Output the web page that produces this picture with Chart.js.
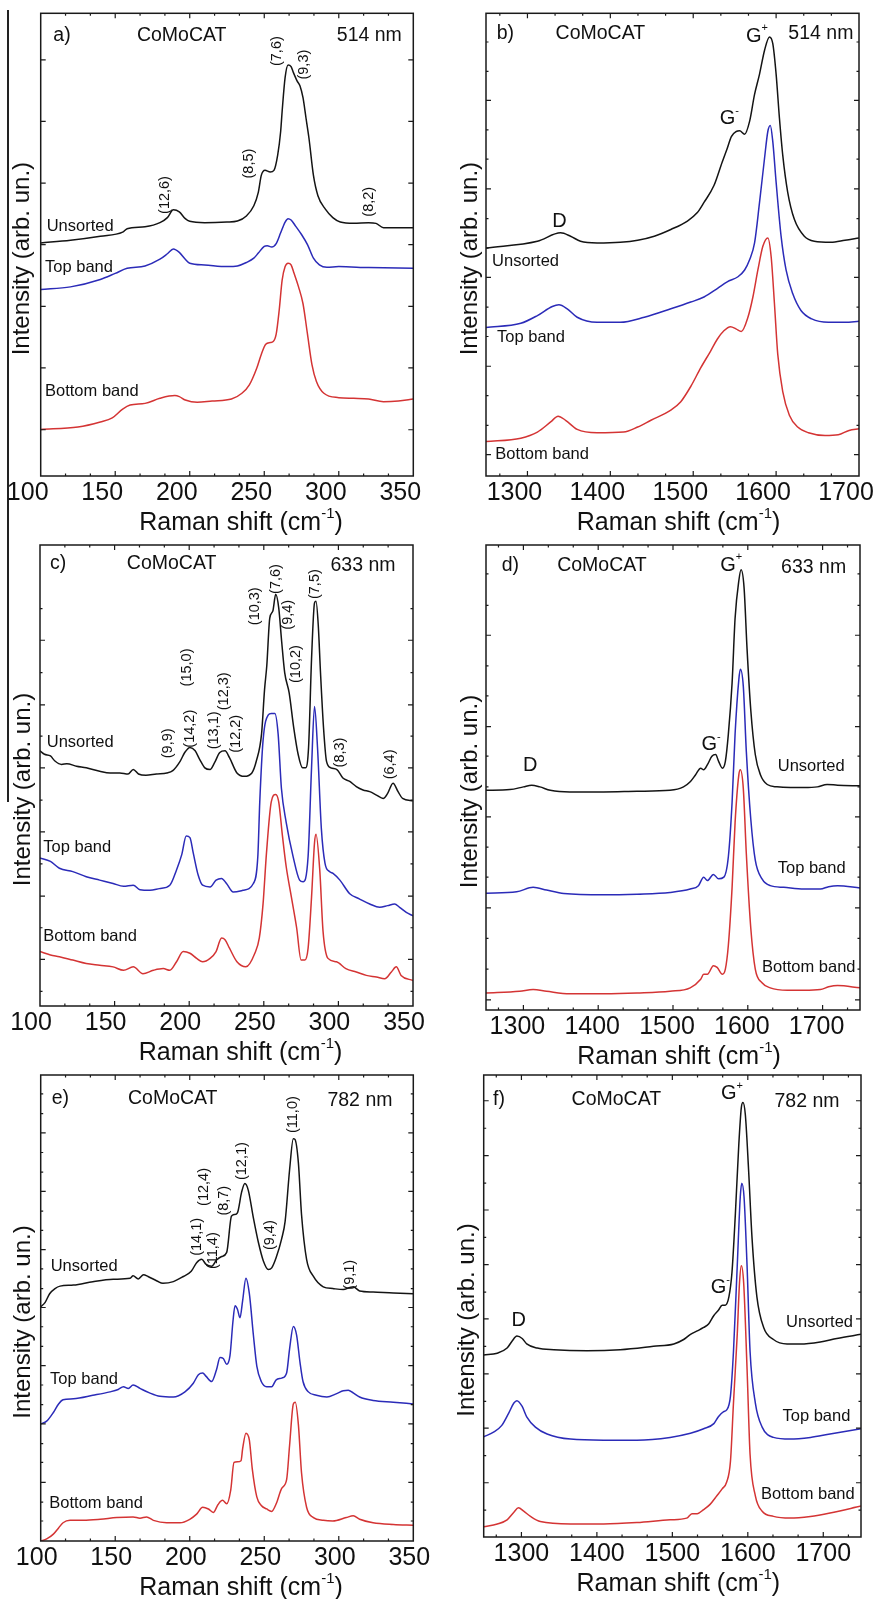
<!DOCTYPE html>
<html>
<head>
<meta charset="utf-8">
<script src="https://cdn.jsdelivr.net/npm/chart.js@4.4.1/dist/chart.umd.min.js"></script>
<style>
  body { margin: 0; background: #fff; }
  #page { position: relative; width: 874px; height: 1599px; overflow: hidden; background: #fff; }
  canvas { position: absolute; }
  #edge { position: absolute; left: 7px; top: 10px; width: 1.5px; height: 792px; background: #222; }
</style>
</head>
<body>
<div id="page">
  <div id="edge"></div>
  <canvas id="pa" width="437" height="545" style="left:0;top:0"></canvas>
  <canvas id="pb" width="437" height="545" style="left:437px;top:0"></canvas>
  <canvas id="pc" width="437" height="545" style="left:0;top:530px"></canvas>
  <canvas id="pd" width="437" height="545" style="left:437px;top:530px"></canvas>
  <canvas id="pe" width="437" height="539" style="left:0;top:1060px"></canvas>
  <canvas id="pf" width="437" height="539" style="left:437px;top:1060px"></canvas>
</div>
<script>
// tick labels
const rbmTicks = [100, 150, 200, 250, 300, 350];
const gTicks = [1300, 1400, 1500, 1600, 1700];

// y ticks per panel (arbitrary intensity units)
const aYTicks = [137, 320, 502, 685, 867, 1050, 1232];
const bYTicks = [63, 150, 238, 325, 413, 500, 588, 675, 762, 850, 938, 1025, 1112, 1198, 1285];
const cYTicks = [43, 137, 230, 323, 418, 512, 605, 700, 793, 885, 980, 1075, 1168];
const dYTicks = [30, 120, 210, 300, 390, 478, 567, 655, 745, 832, 922, 1010, 1100, 1188, 1280];
const eYTicks = [58, 113, 170, 228, 283, 340, 396, 453, 509, 565, 622, 678, 733, 790, 846, 902, 958, 1015, 1071, 1128, 1185, 1241, 1298];
const fYTicks = [78, 158, 237, 317, 395, 475, 555, 635, 713, 793, 872, 952, 1030, 1110, 1190, 1270];

// a) 514 nm RBM  [Raman shift, intensity]
const aUnsorted = [[100,690],[120,698],[140,710],[155,722],[158,732],[170,738],[180,750],[185,765],[189,788],[193,782],[197,762],[200,754],[210,750],[225,752],[232,755],[238,770],[243,800],[246,840],[248,890],[250.5,905],[254,900],[256.5,905],[259,950],[261,1020],[262,1080],[264,1180],[266,1217],[268,1212],[269.5,1195],[272,1170],[274,1155],[276,1120],[278,1060],[280,1000],[283,890],[286,830],[291,790],[296,765],[301,752],[310,748],[320,750],[325,748],[330,735],[340,735],[350,735]];
const aTop = [[100,552],[120,560],[140,582],[150,600],[158,615],[170,622],[180,642],[185,658],[189,672],[193,662],[197,642],[200,630],[210,625],[225,620],[232,622],[238,632],[243,645],[246,660],[250,680],[252,682],[255,678],[258,688],[261,720],[264,752],[266,762],[268,758],[271,740],[275,715],[279,685],[283,645],[287,625],[292,618],[300,620],[320,617],[350,615]];
const aBottom = [[100,138],[125,145],[140,160],[148,172],[155,198],[160,210],[170,215],[180,230],[190,238],[193,235],[197,225],[205,218],[215,222],[228,228],[235,245],[240,270],[245,320],[248,360],[251,390],[254,395],[256,398],[258,420],[260,490],[262,580],[264,620],[266,630],[268,625],[270,600],[273,560],[276,510],[279,420],[282,330],[285,280],[290,245],[300,232],[310,230],[320,228],[330,220],[340,222],[350,228]];

// b) 514 nm G band
const bUnsorted = [[1250,675],[1312,695],[1340,720],[1352,710],[1364,695],[1384,690],[1412,692],[1433,698],[1453,710],[1473,730],[1493,755],[1505,780],[1513,810],[1525,860],[1535,930],[1541,970],[1546,1005],[1552,1020],[1556,1022],[1562,1012],[1568,1050],[1574,1130],[1580,1190],[1586,1260],[1592,1300],[1596,1280],[1600,1190],[1604,1060],[1608,950],[1614,840],[1622,760],[1634,710],[1646,695],[1666,692],[1683,698],[1700,705]];
const bTop = [[1250,440],[1292,452],[1312,475],[1330,502],[1338,507],[1348,495],[1360,470],[1384,455],[1412,455],[1441,470],[1473,495],[1497,515],[1513,530],[1529,555],[1541,575],[1554,590],[1562,610],[1568,640],[1574,690],[1580,810],[1586,940],[1590,1020],[1593,1038],[1596,990],[1600,870],[1606,710],[1612,610],[1620,540],[1630,490],[1643,465],[1663,455],[1683,455],[1700,458]];
const bBottom = [[1250,102],[1292,112],[1312,130],[1328,160],[1337,177],[1346,165],[1360,138],[1384,128],[1416,130],[1433,145],[1449,165],[1473,195],[1485,220],[1497,265],[1509,320],[1521,370],[1529,405],[1537,430],[1545,442],[1552,435],[1558,428],[1566,470],[1572,530],[1578,610],[1584,680],[1590,705],[1594,650],[1598,510],[1602,360],[1608,250],[1616,180],[1626,145],[1639,128],[1659,120],[1675,122],[1688,135],[1700,140]];

// c) 633 nm RBM
const cUnsorted = [[100,750],[103,740],[107,735],[110,720],[114.5,710],[118,712],[124.5,705],[131,700],[140,690],[147,685],[153.5,685],[159,682],[162.5,695],[166,682],[171,678],[178,682],[185,685],[189,692],[194,720],[197,745],[200.5,760],[204,750],[207,725],[210.5,700],[214,695],[217,715],[220.5,745],[224,750],[227,730],[232,685],[237,675],[242,685],[245,720],[248.5,800],[250.5,930],[252,1000],[254,1140],[256,1160],[258,1210],[260,1170],[262,1070],[264,980],[267,920],[270,820],[273,740],[276,700],[278,700],[280,760],[282,1020],[284,1185],[285,1190],[286.5,1120],[288,980],[290,820],[292,720],[295,700],[299,695],[303,670],[307.6,660],[312,645],[316.5,635],[321,630],[325.5,620],[330,610],[333,625],[336.6,655],[340,630],[343,610],[350,603]];
const cTop = [[100,435],[107,425],[113,405],[122,395],[131,380],[140,370],[149,360],[156,352],[162.5,355],[167,342],[173.7,340],[180,345],[187,355],[191.5,400],[195,445],[198,500],[200.5,495],[202.7,450],[206,385],[209,355],[214,350],[218,370],[221.7,375],[225,360],[229.5,335],[236,340],[243,360],[246,440],[247.3,600],[249.5,780],[252.9,855],[255,860],[257.4,860],[259.6,800],[261.8,640],[265,540],[269.6,440],[274,370],[276.3,365],[279.7,440],[282,700],[284,880],[286,760],[288.6,520],[291,420],[294,395],[296.4,390],[301,370],[307.6,330],[314,315],[321,300],[327.7,290],[333,295],[337.7,300],[341,290],[345.5,275],[350,265]];
const cBottom = [[100,160],[107,150],[113,145],[122,135],[131,125],[140,120],[149,115],[156,105],[162.5,115],[169,95],[176,105],[182.6,110],[187,105],[191.5,130],[196,160],[200.5,155],[205,140],[209,130],[214,140],[218,160],[221.7,200],[224,195],[227,170],[232,130],[238,115],[244,155],[247,200],[249.5,300],[251.8,450],[255,600],[258,622],[260,600],[262.5,500],[265,410],[268.5,320],[272,230],[275,135],[277.5,135],[279.7,170],[282,320],[284,480],[285,505],[287.5,400],[289.7,220],[293,140],[298.7,130],[305,110],[312,100],[318.7,90],[325.5,85],[331,80],[335.5,100],[338.8,115],[342,90],[350,75]];

// d) 633 nm G band
const dUnsorted = [[1250,645],[1282,647],[1300,655],[1311,660],[1322,655],[1336,645],[1362,640],[1407,640],[1452,642],[1496,645],[1514,655],[1523,670],[1530,690],[1537,710],[1541,705],[1546,720],[1552,745],[1557,750],[1561,730],[1566,710],[1570,730],[1574,810],[1579,960],[1583,1150],[1588,1260],[1591,1292],[1595,1240],[1599,1060],[1604,880],[1610,750],[1617,690],[1626,662],[1639,655],[1657,653],[1675,653],[1693,655],[1706,662],[1720,660],[1750,658]];
const dTop = [[1250,343],[1291,347],[1313,360],[1331,352],[1354,342],[1407,338],[1452,340],[1496,345],[1523,355],[1534,365],[1541,390],[1546,380],[1554,398],[1561,385],[1568,390],[1574,450],[1579,610],[1583,810],[1588,970],[1590,1000],[1594,950],[1598,760],[1604,560],[1610,440],[1619,385],[1630,365],[1648,360],[1675,355],[1697,355],[1708,362],[1720,365],[1750,358]];
const dBottom = [[1250,50],[1295,55],[1313,60],[1331,55],[1362,48],[1407,48],[1452,50],[1496,55],[1523,65],[1537,90],[1541,105],[1546,105],[1554,130],[1559,125],[1566,105],[1570,120],[1574,190],[1579,360],[1583,550],[1588,690],[1590,705],[1594,650],[1598,460],[1604,240],[1610,120],[1619,80],[1630,65],[1653,58],[1675,58],[1697,60],[1708,68],[1720,72],[1750,65]];

// e) 782 nm RBM
const eUnsorted = [[100,680],[103,693],[106,718],[109.6,733],[113,740],[122,743],[135,753],[148.7,760],[160,763],[162,770],[165.5,761],[169,773],[172,768],[178,755],[182,748],[189,753],[195.7,768],[201,783],[204.6,808],[208,818],[211,803],[214.7,798],[218,816],[221.4,826],[224.8,838],[228,943],[230,948],[232,953],[234.8,1013],[237,1038],[239.3,1018],[242.7,938],[246,868],[249.4,813],[252.7,788],[255,793],[258,823],[261.7,878],[264,928],[267,1078],[269.5,1168],[270.6,1166],[272.9,1098],[275,948],[278.4,818],[283,768],[289.6,738],[296,733],[303,730],[307.5,736],[309.7,738],[314,726],[323,723],[336.6,720],[350,718]];
const eTop = [[100,340],[104,348],[108.5,373],[112,398],[115,410],[122,413],[135,423],[146.5,433],[152,440],[155.5,448],[158.8,443],[162,453],[166.6,443],[173,430],[180,420],[189,418],[196.8,433],[202.4,458],[205.8,483],[208.7,488],[211,478],[214.7,463],[218,498],[220.3,533],[222.5,530],[224.8,513],[227,538],[229,638],[230.4,683],[232,673],[233.7,648],[235.5,698],[237.7,763],[240,718],[242.7,598],[245,508],[248,463],[251.6,448],[255,448],[258,468],[261.7,473],[265,488],[267,558],[269.5,623],[271.7,598],[274,518],[276,463],[279.6,433],[285,423],[292,418],[298.6,428],[303,436],[306.4,438],[309.7,430],[314,418],[323,408],[336.6,403],[350,398]];
const eBottom = [[100,0],[104,6],[108.5,20],[112,38],[115,53],[119.7,60],[128.6,60],[140,63],[151,68],[162,70],[166.6,66],[171,70],[175.6,60],[184.5,53],[193.5,53],[200,63],[204.6,78],[208.7,98],[212.5,93],[215.8,83],[219,106],[222,118],[224.8,108],[227.5,148],[229.7,228],[232,230],[234.4,233],[235.5,268],[237.7,313],[240,293],[242,208],[245,128],[248,103],[251.6,93],[255,86],[258,108],[261.7,153],[265,178],[267,278],[269.5,398],[270.8,403],[272.9,338],[275,198],[278.4,98],[283,68],[289.6,60],[296,58],[305,68],[309.7,73],[314,63],[323,53],[336.6,48],[350,46]];

// f) 782 nm G band
const fUnsorted = [[1250,530],[1268,535],[1281,550],[1287.5,570],[1294,585],[1301,578],[1307,562],[1321,550],[1343,545],[1387,542],[1431,545],[1475,555],[1502,562],[1515,575],[1524,590],[1533,600],[1541.5,610],[1548,620],[1555,645],[1561,660],[1566,675],[1570,675],[1575,700],[1579,770],[1583.5,940],[1588,1140],[1591.4,1250],[1593.6,1265],[1596.7,1230],[1601,1070],[1605.6,870],[1612,700],[1621,610],[1634,575],[1652,562],[1669.6,562],[1696,568],[1718,578],[1750,590]];
const fTop = [[1250,292],[1263,305],[1274,325],[1283,360],[1290,390],[1294,397],[1301,380],[1307,350],[1318.5,320],[1334,300],[1365,285],[1409,282],[1453,282],[1497,290],[1524,302],[1541.5,315],[1555,330],[1561,350],[1568,365],[1572,370],[1577,410],[1581,540],[1586,790],[1590,990],[1592,1030],[1595,990],[1599,790],[1603,540],[1610,390],[1619,320],[1634,290],[1656,285],[1683,290],[1709,300],[1750,315]];
const fBottom = [[1250,30],[1268,38],[1281,50],[1290,72],[1296,85],[1303,75],[1312,60],[1325,45],[1365,38],[1409,38],[1453,42],[1497,50],[1519,55],[1526,68],[1533,68],[1541.5,80],[1550,95],[1559,120],[1566,140],[1572,160],[1577,220],[1581,390],[1586,590],[1589,740],[1591.4,790],[1594.5,740],[1599,490],[1603,240],[1610,120],[1619,75],[1634,60],[1656,55],[1683,60],[1709,70],[1750,90]];

// text labels [text, shift, intensity, align]
const aHead = [['a)', 108.5, 1305, 'left'], ['CoMoCAT', 194.6, 1305, 'center'], ['514 nm', 320.5, 1305, 'center']];
const bHead = [['b)', 1263, 1310, 'left'], ['CoMoCAT', 1388, 1310, 'center'], ['514 nm', 1654, 1310, 'center']];
const cHead = [['c)', 106.7, 1300, 'left'], ['CoMoCAT', 188.2, 1300, 'center'], ['633 nm', 316.5, 1295, 'center']];
const dHead = [['d)', 1271, 1305, 'left'], ['CoMoCAT', 1405, 1305, 'center'], ['633 nm', 1688, 1300, 'center']];
const eHead = [['e)', 107.4, 1283, 'left'], ['CoMoCAT', 188.6, 1283, 'center'], ['782 nm', 314.2, 1280, 'center']];
const fHead = [['f)', 1262.4, 1272, 'left'], ['CoMoCAT', 1425.8, 1272, 'center'], ['782 nm', 1678.4, 1268, 'center']];

const aNames = [['Unsorted', 104, 740, 'left'], ['Top band', 102.9, 617, 'left'], ['Bottom band', 102.9, 250, 'left']];
const bNames = [['Unsorted', 1257.3, 635, 'left'], ['Top band', 1263.3, 410, 'left'], ['Bottom band', 1261.3, 65, 'left']];
const cNames = [['Unsorted', 104.5, 775, 'left'], ['Top band', 102.2, 465, 'left'], ['Bottom band', 102.2, 205, 'left']];
const dNames = [['Unsorted', 1729.5, 715, 'right'], ['Top band', 1730.8, 415, 'right'], ['Bottom band', 1744, 125, 'right']];
const eNames = [['Unsorted', 106.7, 798, 'left'], ['Top band', 106.3, 468, 'left'], ['Bottom band', 105.8, 108, 'left']];
const fNames = [['Unsorted', 1739.4, 625, 'right'], ['Top band', 1735.9, 350, 'right'], ['Bottom band', 1741.6, 125, 'right']];

// chirality assignments, vertical text [label, shift, intensity]
const aPeaks = [['(12,6)', 183.4, 832], ['(8,5)', 240, 925], ['(7,6)', 258.3, 1258], ['(9,3)', 276.7, 1218], ['(8,2)', 320.3, 812]];
const cPeaks = [['(9,9)', 186, 772], ['(14,2)', 200.4, 815], ['(15,0)', 198.2, 995], ['(13,1)', 216.7, 810], ['(12,3)', 223.4, 925], ['(12,2)', 231.7, 800], ['(10,3)', 244, 1175], ['(7,6)', 258, 1255], ['(9,4)', 266.5, 1150], ['(10,2)', 271.4, 1005], ['(7,5)', 284.2, 1240], ['(8,3)', 300.9, 745], ['(6,4)', 334.4, 710]];
const ePeaks = [['(14,1)', 204.6, 883], ['(12,4)', 209.6, 1028], ['(11,4)', 215.8, 843], ['(8,7)', 223, 988], ['(12,1)', 234.8, 1103], ['(9,4)', 253.8, 888], ['(11,0)', 269.5, 1238], ['(9,1)', 307.5, 773]];

// band names [letter, superscript, shift, intensity]
const bBands = [['G', '+', 1577, 1302], ['G', '-', 1543.5, 1058], ['D', '', 1338.7, 755]];
const dBands = [['G', '+', 1577.7, 1305], ['G', '-', 1551, 778], ['D', '', 1309, 718]];
const fBands = [['G', '+', 1579, 1290], ['G', '-', 1563.6, 725], ['D', '', 1296.4, 630]];

const FONT = '"Liberation Sans", Arial, Helvetica, sans-serif';
const COLORS = ['#141414', '#2b2bb8', '#d43434'];

function supText(ctx, parts, cx, cy, align) {
  let total = 0;
  parts.forEach(p => { ctx.font = p.size + 'px ' + FONT; p.w = ctx.measureText(p.t).width; total += p.w; });
  let x = align === 'left' ? cx : cx - total / 2;
  ctx.textAlign = 'left';
  ctx.textBaseline = 'middle';
  parts.forEach(p => {
    ctx.font = p.size + 'px ' + FONT;
    ctx.fillText(p.t, x, cy + (p.dy || 0));
    x += p.w;
  });
}

function drawDeco(chart, p) {
  const ctx = chart.ctx, ca = chart.chartArea;
  const xs = chart.scales.x, ys = chart.scales.y;
  ctx.save();
  ctx.strokeStyle = '#1a1a1a';
  ctx.fillStyle = '#111';
  ctx.lineWidth = 1.5;
  ctx.strokeRect(ca.left, ca.top, ca.right - ca.left, ca.bottom - ca.top);

  ctx.lineWidth = 1.2;
  ctx.beginPath();
  // x ticks, two minor ticks between majors
  const step = p.xTicks[1] - p.xTicks[0];
  for (let k = -3; k <= (p.xTicks.length - 1) * 3 + 3; k++) {
    const v = p.xTicks[0] + k * step / 3;
    if (v <= xs.min + 0.5 || v >= xs.max - 0.5) continue;
    const px = xs.getPixelForValue(v);
    const len = k % 3 === 0 ? 5 : 2.5;
    ctx.moveTo(px, ca.bottom); ctx.lineTo(px, ca.bottom - len);
    ctx.moveTo(px, ca.top); ctx.lineTo(px, ca.top + len);
  }
  // y ticks on both sides
  p.yTicks.forEach((v, i) => {
    const py = ys.getPixelForValue(v);
    const major = ((i - p.yMajorFrom) % p.yMajorEvery + p.yMajorEvery) % p.yMajorEvery === 0;
    const len = major ? 5 : 2.5;
    ctx.moveTo(ca.left, py); ctx.lineTo(ca.left + len, py);
    ctx.moveTo(ca.right, py); ctx.lineTo(ca.right - len, py);
  });
  ctx.stroke();

  // x tick labels
  ctx.font = '25px ' + FONT;
  ctx.textAlign = 'center';
  ctx.textBaseline = 'middle';
  p.xTicks.forEach(v => ctx.fillText(String(v), xs.getPixelForValue(v) + p.labelShift, ca.bottom + 17));

  // axis titles
  const midX = (ca.left + ca.right) / 2 + p.titleShift;
  supText(ctx, [{ t: 'Raman shift (cm', size: 25 }, { t: '-1', size: 15, dy: -9 }, { t: ')', size: 25 }], midX, ca.bottom + 47, 'center');
  ctx.save();
  ctx.translate(p.yTitleX, (ca.top + ca.bottom) / 2 + 14);
  ctx.rotate(-Math.PI / 2);
  ctx.font = '24px ' + FONT;
  ctx.textAlign = 'center';
  ctx.textBaseline = 'middle';
  ctx.fillText('Intensity (arb. un.)', 0, 0);
  ctx.restore();

  // panel header
  ctx.font = '19.5px ' + FONT;
  p.head.forEach(h => {
    ctx.textAlign = h[3];
    ctx.fillText(h[0], xs.getPixelForValue(h[1]), ys.getPixelForValue(h[2]));
  });
  // sample names
  ctx.font = '16.5px ' + FONT;
  p.names.forEach(n => {
    ctx.textAlign = n[3];
    ctx.fillText(n[0], xs.getPixelForValue(n[1]), ys.getPixelForValue(n[2]));
  });
  // chirality labels
  ctx.font = '14.5px ' + FONT;
  ctx.textAlign = 'center';
  (p.peaks || []).forEach(k => {
    ctx.save();
    ctx.translate(xs.getPixelForValue(k[1]), ys.getPixelForValue(k[2]));
    ctx.rotate(-Math.PI / 2);
    ctx.fillText(k[0], 0, 0);
    ctx.restore();
  });
  // band labels
  (p.bands || []).forEach(b => {
    const parts = [{ t: b[0], size: 20 }];
    if (b[1]) parts.push({ t: b[1], size: 11, dy: -8 });
    supText(ctx, parts, xs.getPixelForValue(b[2]), ys.getPixelForValue(b[3]), 'center');
  });
  ctx.restore();
}

function makePanel(id, p) {
  new Chart(document.getElementById(id), {
    type: 'line',
    data: {
      datasets: p.series.map((s, i) => ({
        data: s.map(pt => ({ x: pt[0], y: pt[1] })),
        borderColor: COLORS[i],
        borderWidth: 1.5,
        pointRadius: 0,
        fill: false,
        cubicInterpolationMode: 'monotone'
      }))
    },
    options: {
      responsive: false,
      animation: false,
      layout: { padding: p.pad },
      plugins: { legend: { display: false }, tooltip: { enabled: false } },
      scales: {
        x: { type: 'linear', min: p.xMin, max: p.xMax, display: false },
        y: { type: 'linear', min: 0, max: p.yMax, display: false }
      }
    },
    plugins: [{ id: 'deco' + id, afterDraw: chart => drawDeco(chart, p) }]
  });
}

makePanel('pa', { series: [aUnsorted, aTop, aBottom], xMin: 100, xMax: 350, yMax: 1370, xTicks: rbmTicks, yTicks: aYTicks, yMajorFrom: 0, yMajorEvery: 1,
  pad: { left: 40.7, top: 13.3, right: 23.7, bottom: 69 }, labelShift: -13, titleShift: 14, yTitleX: 22, head: aHead, names: aNames, peaks: aPeaks });
makePanel('pb', { series: [bUnsorted, bTop, bBottom], xMin: 1250, xMax: 1700, yMax: 1370, xTicks: gTicks, yTicks: bYTicks, yMajorFrom: 0, yMajorEvery: 3,
  pad: { left: 49, top: 13.3, right: 15, bottom: 69 }, labelShift: -13, titleShift: 6, yTitleX: 33, head: bHead, names: bNames, bands: bBands });
makePanel('pc', { series: [cUnsorted, cTop, cBottom], xMin: 100, xMax: 350, yMax: 1355, xTicks: rbmTicks, yTicks: cYTicks, yMajorFrom: 1, yMajorEvery: 2,
  pad: { left: 40, top: 15, right: 24, bottom: 69 }, labelShift: -9, titleShift: 14, yTitleX: 23, head: cHead, names: cNames, peaks: cPeaks });
makePanel('pd', { series: [dUnsorted, dTop, dBottom], xMin: 1250, xMax: 1750, yMax: 1365, xTicks: gTicks, yTicks: dYTicks, yMajorFrom: 0, yMajorEvery: 3,
  pad: { left: 49, top: 15, right: 14, bottom: 65 }, labelShift: -6, titleShift: 6, yTitleX: 33, head: dHead, names: dNames, bands: dBands });
makePanel('pe', { series: [eUnsorted, eTop, eBottom], xMin: 100, xMax: 350, yMax: 1353, xTicks: rbmTicks, yTicks: eYTicks, yMajorFrom: 2, yMajorEvery: 3,
  pad: { left: 40.7, top: 15, right: 23.7, bottom: 58 }, labelShift: -4, titleShift: 14, yTitleX: 23, head: eHead, names: eNames, peaks: ePeaks });
makePanel('pf', { series: [fUnsorted, fTop, fBottom], xMin: 1250, xMax: 1750, yMax: 1345, xTicks: gTicks, yTicks: fYTicks, yMajorFrom: 1, yMajorEvery: 2,
  pad: { left: 46.7, top: 15, right: 13, bottom: 62 }, labelShift: 0, titleShift: 6, yTitleX: 30, head: fHead, names: fNames, bands: fBands });
</script>
</body>
</html>
